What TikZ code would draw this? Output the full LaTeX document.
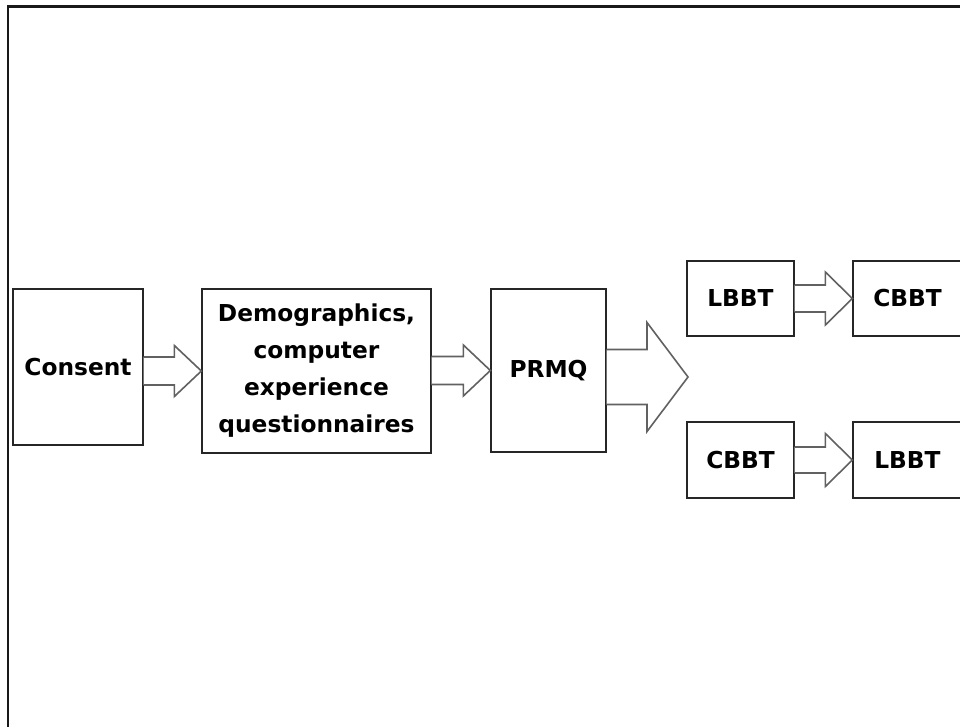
\documentclass[tikz,border=0pt]{standalone}
\usepackage{fontspec}
\setsansfont{DejaVu Sans}
\usetikzlibrary{calc}

% hollow block arrow from the east side of #1 to the point #2
% #3 shaft half-height, #4 head half-height, #5 head length
\newcommand{\blockarrow}[5]{%
  \draw[blockarr] let \p1=(#1), \p2=(#2) in
    (\x1,\y2-#3) -- (\x2-#5,\y2-#3) -- (\x2-#5,\y2-#4) -- (\x2,\y2)
    -- (\x2-#5,\y2+#4) -- (\x2-#5,\y2+#3) -- (\x1,\y2+#3);}

\tikzset{
  stagebox/.style={draw=black!85, line width=1.3pt, fill=white, rectangle,
    inner sep=0pt, align=center,
    font=\sffamily\bfseries\fontsize{23.3}{37}\selectfont},
  blockarr/.style={draw=black!62, line width=1.6pt, fill=white, line join=miter},
  frameline/.style={draw=black!90, line width=2.2pt}
}

\begin{document}
\begin{tikzpicture}[x=1pt,y=-1pt]
  \useasboundingbox (0,0) rectangle (960,727);
  \clip (0,0) rectangle (960,727);
  \fill[white] (0,0) rectangle (960,727);

  % outer frame (left and top sides)
  \draw[frameline] (8,735) -- (8,6.5) -- (970,6.5);

  % stages
  \node[stagebox, minimum width=130pt, minimum height=156pt] (consent) at (78,367) {Consent};
  \node[stagebox, minimum width=229pt, minimum height=164pt] (demo) at (316.5,371)
    {Demographics,\\computer\\experience\\questionnaires};
  \node[stagebox, minimum width=115pt, minimum height=163pt] (prmq) at (548.5,370.5) {PRMQ};
  \coordinate (split) at (688,377);

  \node[stagebox, minimum width=107pt, minimum height=75pt] (lbbtA) at (740.5,298.5) {LBBT};
  \node[stagebox, minimum width=109pt, minimum height=75pt] (cbbtA) at (907.5,298.5) {CBBT};
  \node[stagebox, minimum width=107pt, minimum height=76pt] (cbbtB) at (740.5,460) {CBBT};
  \node[stagebox, minimum width=109pt, minimum height=76pt] (lbbtB) at (907.5,460) {LBBT};

  % connectors
  \blockarrow{consent.east}{demo.west}{14}{25.5}{27}
  \blockarrow{demo.east}{prmq.west}{14}{25.5}{27}
  \blockarrow{prmq.east}{split}{27.5}{54.5}{41}
  \blockarrow{lbbtA.east}{cbbtA.west}{13.5}{26.5}{27}
  \blockarrow{cbbtB.east}{lbbtB.west}{13}{26.5}{27}
\end{tikzpicture}
\end{document}
